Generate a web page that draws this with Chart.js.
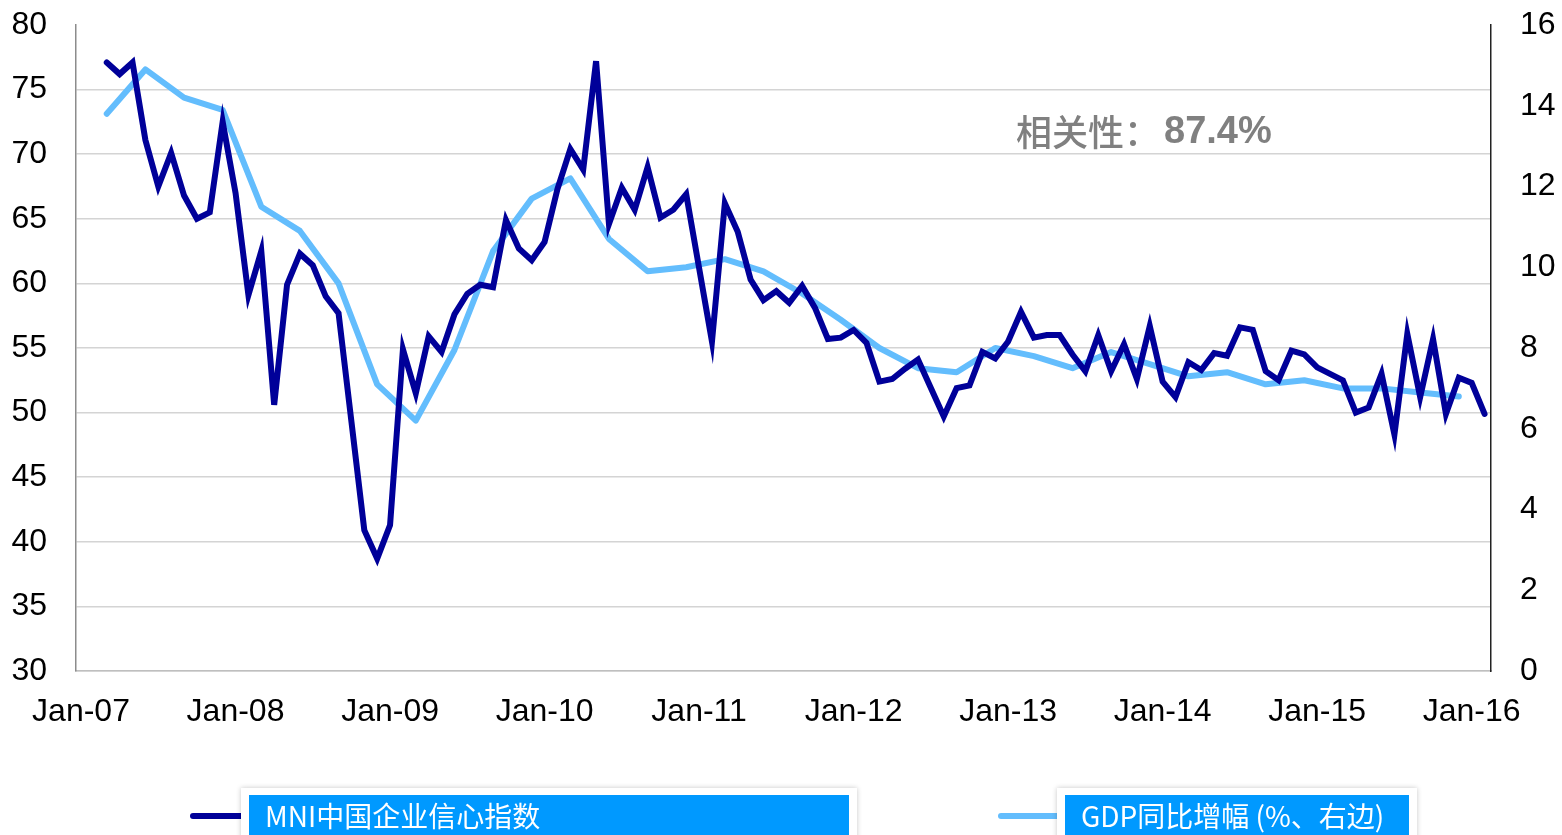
<!DOCTYPE html>
<html>
<head>
<meta charset="utf-8">
<script src="https://cdn.jsdelivr.net/npm/chart.js@4"></script>
<style>
html,body{margin:0;padding:0;background:#fff;}
#wrap{position:relative;width:1562px;height:835px;}
</style>
</head>
<body>
<div id="wrap"><canvas id="c" width="1562" height="835"></canvas></div>
<script>
// ---- data ----
const xTickLabels = ['Jan-07','Jan-08','Jan-09','Jan-10','Jan-11','Jan-12','Jan-13','Jan-14','Jan-15','Jan-16'];
const mniStartMonth = 2;   // Mar-07 (months since Jan-07)
const mniValues = [
  77.1,76.2,77.1,71.1,67.5,70.1,66.8,65.0,65.5,72.5,
  67.0,59.1,62.5,50.6,59.9,62.3,61.4,59.0,57.7,49.3,40.9,38.7,
  41.3,54.9,51.5,55.9,54.7,57.6,59.2,59.9,59.7,64.9,62.7,61.8,
  63.2,67.3,70.4,68.8,77.2,64.6,67.4,65.7,69.0,65.1,65.7,66.9,
  61.2,55.5,66.2,64.0,60.3,58.7,59.4,58.5,59.8,58.1,55.7,55.8,
  56.4,55.4,52.4,52.6,53.4,54.1,51.9,49.7,51.9,52.1,54.7,54.2,
  55.5,57.8,55.8,56.0,56.0,54.5,53.2,56.0,53.2,55.3,52.6,56.7,
  52.4,51.2,53.9,53.3,54.6,54.4,56.6,56.4,53.2,52.5,54.8,54.5,
  53.5,53.0,52.5,50.0,50.4,53.0,48.3,56.1,51.2,55.7,49.9,52.7,
  52.3,49.9
];
const gdpStartMonth = 2;   // Q1-07 (Mar-07)
const gdpValues = [
  13.8,14.9,14.2,13.9,
  11.5,10.9,9.6,7.1,
  6.2,7.95,10.4,11.7,
  12.2,10.7,9.9,10.0,
  10.2,9.9,9.35,8.7,
  8.0,7.5,7.4,8.0,
  7.8,7.5,7.9,7.6,
  7.3,7.4,7.1,7.2,
  7.0,7.0,6.9,6.8
];
const seriesNames = ['MNI中国企业信心指数','GDP同比增幅 (%、右边)'];
const annotationText = ['相关性：','87.4%'];
const leftTicks = {min:30,max:80,step:5};
const rightTicks = {min:0,max:16,step:2};

// ---- build ----
const mniPts = mniValues.map((v,i)=>({x:mniStartMonth+i, y:v}));
const gdpPts = gdpValues.map((v,i)=>({x:gdpStartMonth+i*3, y:v}));
const tickVals = xTickLabels.map((l,i)=>i*12);

const DARK = '#000099', LIGHT = '#63bdfd', LEGBLUE = '#0099ff';
const tickFont = {family:'"Liberation Sans", Arial, sans-serif', size:32};

const overlay = {
  id:'overlay',
  afterDraw(chart){
    const ctx = chart.ctx;
    ctx.save();
    // annotation
    ctx.fillStyle = '#808080';
    ctx.textBaseline = 'middle';
    ctx.textAlign = 'left';
    ctx.font = '500 36px "Noto Sans CJK SC", sans-serif';
    const x0 = 1016;
    ctx.fillText(annotationText[0], x0, 132);
    const w0 = ctx.measureText(annotationText[0]).width;
    ctx.font = 'bold 38px "Liberation Sans", Arial, sans-serif';
    ctx.fillText(annotationText[1], x0 + w0 + 4, 133);

    // legend
    const items = [
      {name:seriesNames[0], color:DARK, lx0:193, lx1:244, bx:241, bw:616},
      {name:seriesNames[1], color:LIGHT, lx0:1001, lx1:1060, bx:1057, bw:360}
    ];
    items.forEach(it=>{
      ctx.strokeStyle = it.color;
      ctx.lineWidth = 6;
      ctx.lineCap = 'round';
      ctx.beginPath(); ctx.moveTo(it.lx0, 816); ctx.lineTo(it.lx1, 816); ctx.stroke();
      ctx.save();
      ctx.shadowColor = 'rgba(0,0,0,0.22)';
      ctx.shadowBlur = 5;
      ctx.fillStyle = '#fff';
      ctx.fillRect(it.bx, 788, it.bw, 60);
      ctx.restore();
      ctx.fillStyle = LEGBLUE;
      ctx.fillRect(it.bx+8, 795, it.bw-16, 50);
      ctx.fillStyle = '#fff';
      ctx.font = '28px "Noto Sans CJK SC", sans-serif';
      ctx.textBaseline = 'middle';
      ctx.fillText(it.name, it.bx+24, 816);
    });
    ctx.restore();
  }
};

function fixV(width){
  return function(s){ s.width = width; s.paddingTop = 0; s.paddingBottom = 0; };
}

new Chart(document.getElementById('c'), {
  type:'line',
  data:{
    datasets:[
      {label:seriesNames[0], data:mniPts, yAxisID:'y', borderColor:DARK, borderWidth:6,
       pointRadius:0, tension:0, borderCapStyle:'round', borderJoinStyle:'miter', order:1},
      {label:seriesNames[1], data:gdpPts, yAxisID:'y1', borderColor:LIGHT, borderWidth:6,
       pointRadius:0, tension:0, borderCapStyle:'round', borderJoinStyle:'round', order:2}
    ]
  },
  options:{
    responsive:false,
    animation:false,
    devicePixelRatio:1,
    layout:{padding:{top:25,left:0,right:0,bottom:0}},
    plugins:{legend:{display:false}, tooltip:{enabled:false}},
    scales:{
      x:{
        type:'linear', min:-0.39, max:109.5,
        afterBuildTicks(s){ s.ticks = tickVals.map(v=>({value:v})); },
        afterFit(s){ s.height = 164; s.paddingLeft = 0; s.paddingRight = 0; },
        ticks:{ callback:(v)=>xTickLabels[Math.round(v/12)], font:tickFont, color:'#000', padding:22, maxRotation:0, autoSkip:false },
        grid:{display:false, drawTicks:false},
        border:{display:true, color:'#bfbfbf', width:1.5}
      },
      y:{
        position:'left', min:leftTicks.min, max:leftTicks.max,
        afterFit: fixV(76),
        ticks:{ stepSize:leftTicks.step, font:tickFont, color:'#000', padding:29 },
        grid:{ drawTicks:false, lineWidth:1.5, color:(c)=> c.tick && c.tick.value===leftTicks.max ? 'rgba(0,0,0,0)' : '#d4d4d4' },
        border:{display:true, color:'#8c8c8c', width:1.5}
      },
      y1:{
        position:'right', min:rightTicks.min, max:rightTicks.max,
        afterFit: fixV(71),
        ticks:{ stepSize:rightTicks.step, font:tickFont, color:'#000', padding:29 },
        grid:{ display:false, drawTicks:false },
        border:{display:true, color:'#222', width:1.5}
      }
    }
  },
  plugins:[overlay]
});
</script>
</body>
</html>
